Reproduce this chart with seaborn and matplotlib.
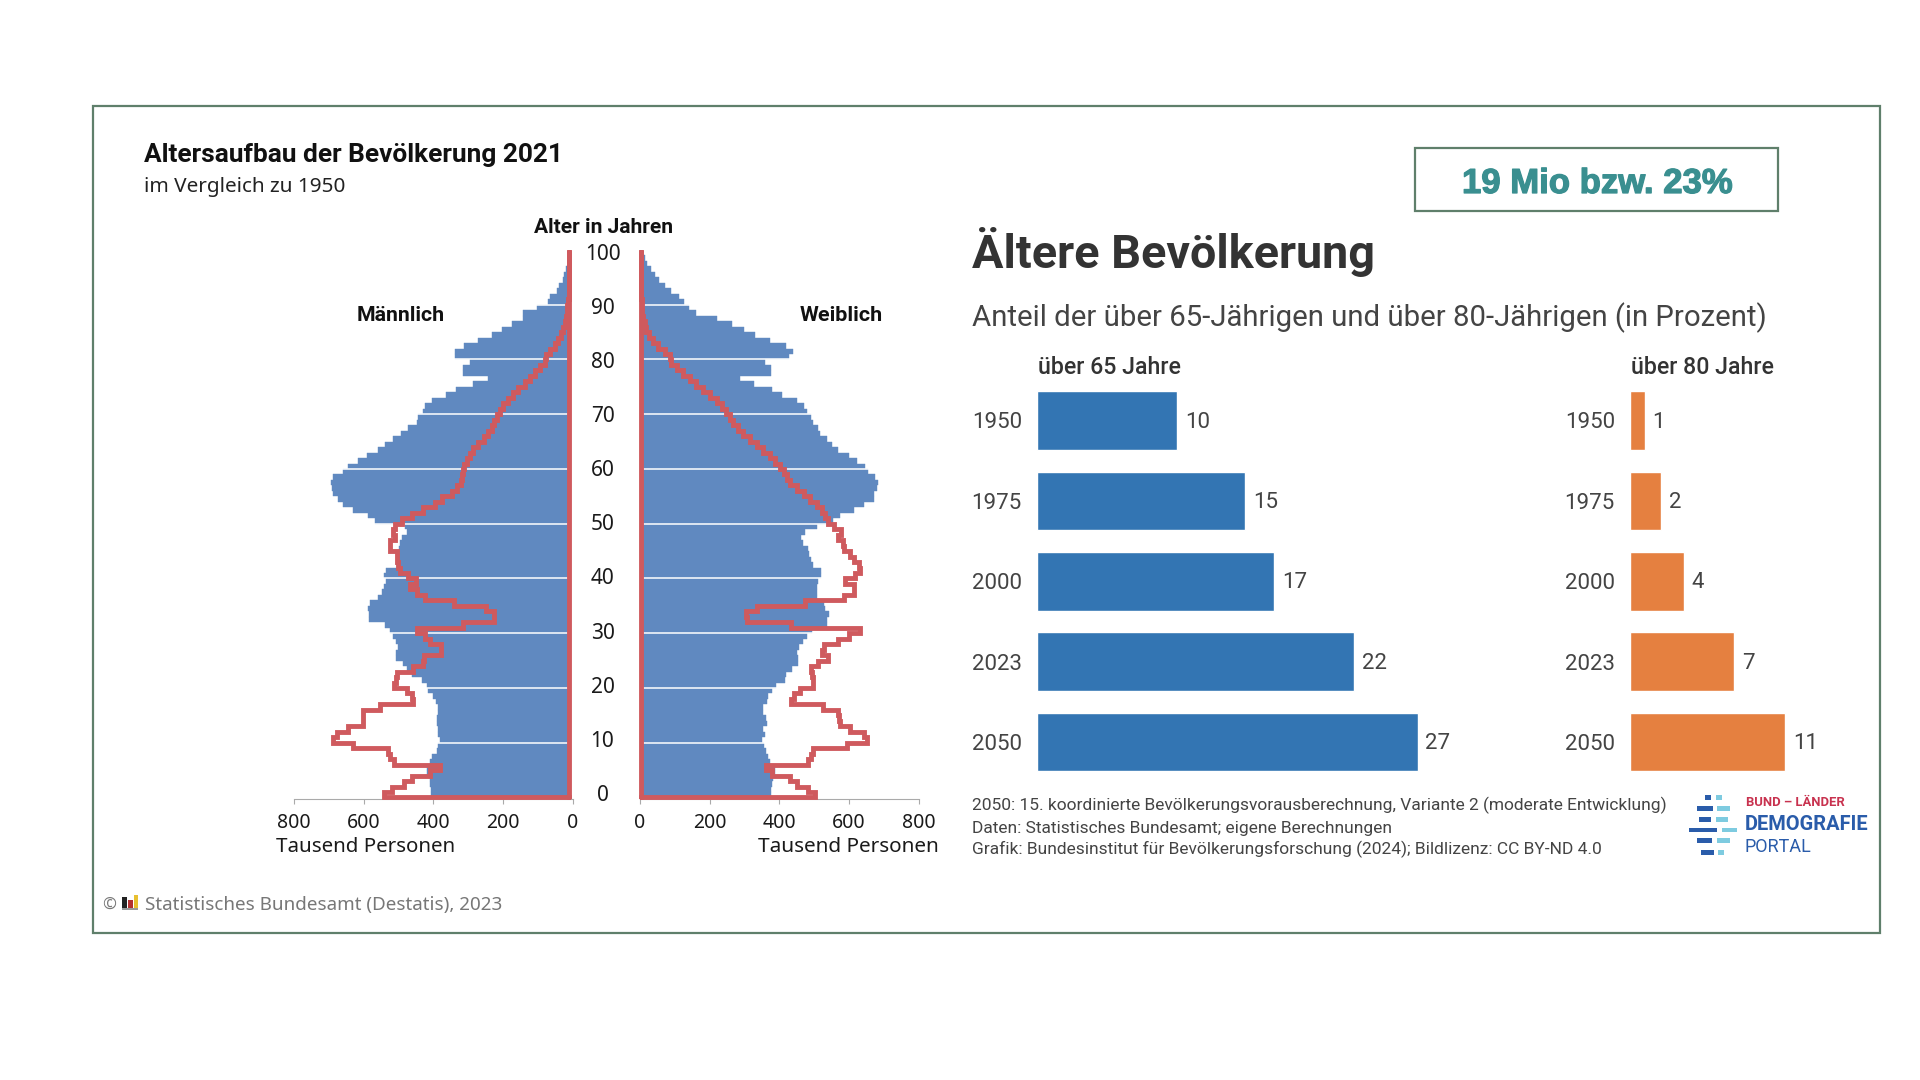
# Altersaufbau + Aeltere Bevoelkerung
import numpy as np
import pandas as pd
import matplotlib.pyplot as plt
import matplotlib.patheffects as pe
import seaborn as sns
from matplotlib.patches import Rectangle

# %% Daten
alter = list(range(100))

maenner_2021 = [
    407, 407, 410, 411, 419, 419, 410, 403, 390, 386,
    381, 386, 388, 390, 390, 388, 386, 393, 400, 415,
    419, 433, 462, 477, 486, 507, 507, 502, 507, 517,
    524, 539, 585, 585, 588, 582, 560, 548, 541, 536,
    543, 536, 505, 505, 503, 500, 497, 490, 476, 481,
    567, 587, 630, 658, 673, 687, 690, 695, 687, 658,
    644, 615, 591, 558, 539, 517, 494, 472, 448, 443,
    429, 424, 405, 364, 336, 285, 242, 314, 314, 295,
    338, 338, 311, 271, 233, 204, 175, 144, 144, 103,
    72, 65, 46, 38, 29, 25, 19, 14, 10, 6]
maenner_1950 = [
    543, 520, 483, 462, 410, 381, 513, 524, 529, 630,
    687, 678, 644, 603, 603, 603, 553, 457, 462, 477,
    512, 507, 505, 457, 430, 427, 379, 379, 410, 424,
    446, 316, 226, 226, 249, 341, 424, 448, 467, 450,
    472, 496, 502, 505, 505, 524, 524, 510, 515, 510,
    491, 462, 429, 395, 376, 347, 333, 322, 319, 316,
    311, 302, 294, 285, 271, 256, 242, 233, 226, 216,
    209, 199, 185, 171, 156, 137, 122, 108, 94, 79,
    77, 65, 51, 41, 33, 27, 22, 19, 17, 15,
    13, 12, 11, 11, 11, 11, 11, 11, 11, 11]
frauen_2021 = [
    375, 375, 378, 383, 388, 388, 373, 368, 361, 356,
    351, 359, 354, 364, 362, 354, 354, 364, 366, 378,
    390, 416, 419, 435, 453, 453, 450, 455, 467, 479,
    493, 536, 536, 543, 531, 527, 509, 507, 507, 512,
    519, 519, 498, 490, 486, 481, 469, 462, 474, 507,
    555, 575, 613, 642, 672, 672, 680, 683, 675, 654,
    647, 622, 599, 567, 551, 536, 517, 510, 498, 490,
    479, 471, 450, 407, 380, 327, 287, 376, 376, 359,
    429, 440, 418, 373, 330, 298, 265, 222, 162, 141,
    127, 112, 90, 71, 55, 42, 31, 21, 13, 7]
frauen_1950 = [
    503, 483, 450, 431, 378, 361, 483, 490, 498, 594,
    651, 642, 603, 573, 571, 569, 525, 434, 443, 459,
    498, 496, 494, 491, 512, 541, 522, 528, 567, 601,
    632, 434, 306, 303, 335, 474, 587, 615, 615, 589,
    618, 632, 630, 615, 603, 587, 582, 567, 576, 558,
    541, 530, 522, 507, 488, 471, 450, 431, 421, 412,
    402, 387, 373, 354, 335, 315, 296, 282, 268, 258,
    248, 234, 220, 200, 181, 162, 143, 124, 105, 88,
    87, 71, 52, 37, 26, 18, 13, 9, 7, 6,
    5, 4, 3, 2, 2, 2, 2, 2, 2, 2]

jahre = ['1950', '1975', '2000', '2023', '2050']
ueber65 = [9.95, 14.8, 16.85, 22.55, 27.05]
ueber65_labels = [10, 15, 17, 22, 27]
ueber80 = [1.05, 2.2, 3.85, 7.4, 11.05]
ueber80_labels = [1, 2, 4, 7, 11]

alter_ticks = [0, 10, 20, 30, 40, 50, 60, 70, 80, 90, 100]
personen_ticks = [0, 200, 400, 600, 800]

BLAU_PYR = '#6089c0'
ROT = '#cf5a5e'
BLAU = '#3375b3'
ORANGE = '#e58040'
RAHMEN = '#5f7f6b'
TEAL = '#3a8f90'

# %% Figur
sns.set_theme(style='white')
plt.rcParams['font.family'] = ['Noto Sans', 'DejaVu Sans']

W, H = 1920, 1080
fig = plt.figure(figsize=(W / 100, H / 100), dpi=100, facecolor='white')
renderer = fig.canvas.get_renderer()


def achse(x0, y0, x1, y1):
    # Pixel von oben links -> Achse
    return fig.add_axes([x0 / W, 1 - y1 / H, (x1 - x0) / W, (y1 - y0) / H])


def box(x0, y0, x1, y1, **kw):
    fig.add_artist(Rectangle((x0 / W, 1 - y1 / H), (x1 - x0) / W, (y1 - y0) / H,
                             transform=fig.transFigure, **kw))


def text(x, y, s, size=14, breite=None, **kw):
    # breite = Zielbreite in Pixel, Schrift wird passend skaliert
    t = fig.text(x / W, 1 - (y + 1.5) / H, s, fontsize=size, va='center', **kw)
    if breite:
        t.set_fontsize(size * breite / t.get_window_extent(renderer).width)
    return t


def pyramide(ax, werte, werte_1950, basis):
    df = pd.DataFrame({'alter': alter, 'wert': werte})
    sns.barplot(data=df, x='wert', y='alter', orient='y', native_scale=True, width=1,
                color=BLAU_PYR, saturation=1, edgecolor=BLAU_PYR, linewidth=0.3, ax=ax)
    ax.hlines(np.array(alter_ticks[1:-1]) - 0.5, 0, 800, color='white', lw=1.1, zorder=3)
    # Umriss 1950 als Stufenlinie
    kanten = np.array(alter) - 0.5
    umriss_y = np.concatenate([[-0.5], np.column_stack([kanten, kanten + 1]).ravel(), [99.5, -0.5]])
    umriss_x = np.concatenate([[basis], np.repeat(werte_1950, 2), [basis, basis]])
    sns.lineplot(x=umriss_x, y=umriss_y, sort=False, estimator=None, color=ROT, linewidth=3.5,
                 solid_joinstyle='miter', clip_on=False, zorder=4, ax=ax)
    ax.set_ylim(-0.83, 99.5)
    ax.set_xticks(personen_ticks)
    ax.set_xticklabels([str(p) for p in personen_ticks])
    ax.set_yticks([])
    ax.set_xlabel('')
    ax.set_ylabel('')
    ax.patch.set_alpha(0)
    ax.tick_params(axis='x', length=3.6, width=0.8, color='#aaaaaa', labelsize=14,
                   labelcolor='#1a1a1a', pad=6, bottom=True)
    sns.despine(ax=ax, left=True)
    ax.spines['bottom'].set_color('#aaaaaa')
    ax.spines['bottom'].set_linewidth(0.8)


# %% Pyramide links / rechts
ax_m = achse(294, 250, 572.7, 799.3)
pyramide(ax_m, maenner_2021, maenner_1950, 11)
ax_m.axvspan(0, 5, color='white', lw=0, zorder=2.5)
ax_m.set_xlim(800, 0)

ax_f = achse(640, 250, 918.7, 799.3)
pyramide(ax_f, frauen_2021, frauen_1950, 2)
ax_f.set_xlim(0, 800)

for a in alter_ticks:
    text(602.5, 794 - 5.415 * a, str(a), size=15, ha='center', color='#1a1a1a')

text(144.5, 153.5, 'Altersaufbau der Bevölkerung 2021', size=18, breite=420,
     family='Roboto', fontweight='bold', color='#111111')
text(144.5, 185.5, 'im Vergleich zu 1950', size=14, breite=202, color='#222222')
text(534, 225.5, 'Alter in Jahren', size=14, breite=140, family='Roboto',
     fontweight='bold', color='#111111')
text(357, 314, 'Männlich', size=14, breite=88, family='Roboto', fontweight='bold', color='#111111')
text(800, 314, 'Weiblich', size=14, breite=83, family='Roboto', fontweight='bold', color='#111111')
text(276.5, 846, 'Tausend Personen', size=14, breite=180, color='#1a1a1a')
text(757.5, 846, 'Tausend Personen', size=14, breite=182, color='#1a1a1a')

# Quelle mit kleinem Destatis-Symbol
text(102.5, 903, '©', size=12, color='#777777')
box(122, 897, 126.5, 908, color='#222222', lw=0)
box(128, 900, 132.5, 908, color='#b33030', lw=0)
box(134, 895, 138, 908, color='#e8c030', lw=0)
box(122, 908, 138, 910, color='#999999', lw=0)
text(145, 903.5, 'Statistisches Bundesamt (Destatis), 2023', size=14, breite=356, color='#777777')

# %% Balken rechts
for pos, werte, labels, farbe, kopf in [
    ((1037.2, 1431.2), ueber65, ueber65_labels, BLAU, 'über 65 Jahre'),
    ((1630.2, 1798.2), ueber80, ueber80_labels, ORANGE, 'über 80 Jahre'),
]:
    ax = achse(pos[0], 380.3, pos[1], 782.2)
    df = pd.DataFrame({'jahr': jahre, 'anteil': werte})
    sns.barplot(data=df, x='anteil', y='jahr', orient='y', width=0.73, color=farbe,
                saturation=1, ax=ax)
    ax.set_xlim(0, (pos[1] - pos[0]) / (14.07 if farbe == BLAU else 14.03))
    ax.set_xticks([])
    ax.set_xlabel('')
    ax.set_ylabel('')
    ax.patch.set_alpha(0)
    ax.tick_params(axis='y', length=0, pad=11, labelsize=16, labelcolor='#444444')
    for lab in ax.get_yticklabels():
        lab.set_family('Roboto')
    sns.despine(ax=ax, left=True, bottom=True)
    for i, (v, lab) in enumerate(zip(werte, labels)):
        ax.annotate(str(lab), (v, i), xytext=(5.5, -1.2), textcoords='offset points', va='center',
                    fontsize=16, family='Roboto', color='#444444', annotation_clip=False)
    text(pos[0] + 1, 366.5, kopf, size=15, breite=143, family='Roboto', fontweight='medium',
         color='#333333')

text(972, 250.5, 'Ältere Bevölkerung', size=30, breite=402, family='Roboto', fontweight='bold',
     color='#333333')
text(972, 316, 'Anteil der über 65-Jährigen und über 80-Jährigen (in Prozent)', size=20, breite=794,
     family='Roboto', color='#444444')

text(972.5, 804, '2050: 15. koordinierte Bevölkerungsvorausberechnung, Variante 2 (moderate Entwicklung)',
     size=13, breite=696, family='Roboto', color='#444444')
text(972.5, 826.5, 'Daten: Statistisches Bundesamt; eigene Berechnungen', size=13, breite=422,
     family='Roboto', color='#444444')
text(972.5, 848, 'Grafik: Bundesinstitut für Bevölkerungsforschung (2024); Bildlizenz: CC BY-ND 4.0',
     size=13, breite=629, family='Roboto', color='#444444')

# %% Hinweisbox
box(1415, 148, 1778, 211, facecolor='white', edgecolor=RAHMEN, linewidth=1.6)
t = text(1462, 182, '19 Mio bzw. 23%', size=25.7, breite=270, family='Liberation Sans',
         fontweight='bold', color=TEAL)
t.set_path_effects([pe.withStroke(linewidth=0.9, foreground=TEAL)])

# %% Logo
logo_y = [83, 115, 148, 180, 212, 247]
logo_dunkel = [(165, 183), (141, 188), (147, 184), (118, 201), (140, 187), (152, 191)]
logo_hell = [(198, 216), (202, 241), (199, 234), (216, 260), (201, 241), (204, 221)]
for y, d, h in zip(logo_y, logo_dunkel, logo_hell):
    oben, unten = 770 + (y - 7) / 3, 770 + (y + 7) / 3
    box(1650 + d[0] / 3, oben, 1650 + d[1] / 3, unten, color='#2a5caa', lw=0)
    box(1650 + h[0] / 3, oben, 1650 + h[1] / 3, unten, color='#7ecbe0', lw=0)
text(1746, 801, 'BUND – LÄNDER', size=10, breite=98, family='Roboto', fontweight='bold', color='#c8324f')
text(1745, 823.5, 'DEMOGRAFIE', size=14, breite=124, family='Roboto', fontweight='bold', color='#2a5caa')
text(1745, 846, 'PORTAL', size=14, breite=67, family='Roboto', color='#2a5caa')

# %% Rahmen
box(93, 106, 1880, 932.5, fill=False, edgecolor=RAHMEN, linewidth=1.6)

fig.savefig('out.png', dpi=100, facecolor='white')
